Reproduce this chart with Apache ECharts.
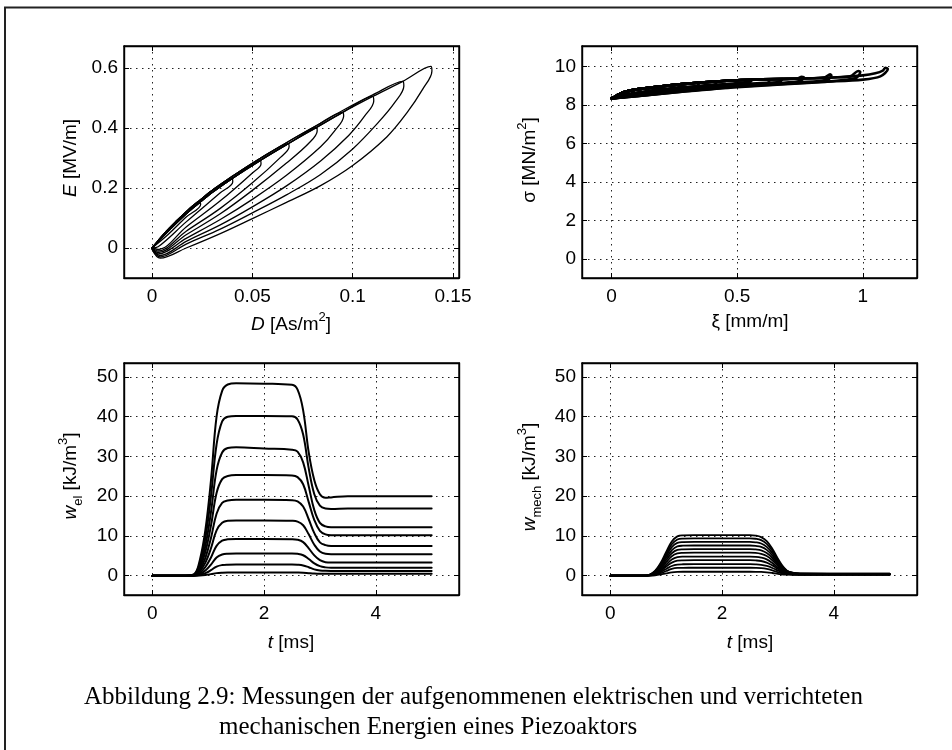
<!DOCTYPE html>
<html><head><meta charset="utf-8">
<script src="https://cdn.jsdelivr.net/npm/echarts@6/dist/echarts.min.js"></script>
<style>html,body{margin:0;padding:0;background:#fff}#c{width:952px;height:750px}</style>
</head><body><div id="c"></div>
<script>
// ---------- axis ranges and tick labels ----------
const rangeD = [-0.014, 0.153];   const ticksD = [0, 0.05, 0.1, 0.15];
const rangeE = [-0.1, 0.673];     const ticksE = [0, 0.2, 0.4, 0.6];
const rangeXi = [-0.118, 1.216];  const ticksXi = [0, 0.5, 1];
const rangeSigma = [-1.0, 11.08]; const ticksSigma = [0, 2, 4, 6, 8, 10];
const rangeT = [-0.507, 5.49];    const ticksT = [0, 2, 4];
const rangeW = [-4.85, 53.5];     const ticksW = [0, 10, 20, 30, 40, 50];

// ---------- E-D hysteresis (upper branch strands + lower branch of each loop, tip first) ----------
const elEnvelope  = [[0,0],[0.006,0.042],[0.012,0.082],[0.018,0.12],[0.024,0.153],[0.031,0.19],[0.04,0.232],[0.054,0.292],[0.068,0.348],[0.082,0.402],[0.095,0.452],[0.11,0.505],[0.125,0.555],[0.139,0.605]];
const elEnvelope2 = [[0,0],[0.006,0.048],[0.012,0.089],[0.018,0.127],[0.024,0.16],[0.031,0.197],[0.04,0.239],[0.054,0.299],[0.068,0.355],[0.082,0.408],[0.095,0.458],[0.11,0.51],[0.125,0.558],[0.139,0.605]];
const elLoop1 = [[0.139,0.605],[0.1395,0.59],[0.135,0.53],[0.127,0.45],[0.117,0.37],[0.1,0.275],[0.084,0.208],[0.067,0.152],[0.05,0.098],[0.034,0.048],[0.017,0.0],[0.004,-0.034],[0,-0.005]];
const elLoop2 = [[0.125,0.555],[0.1255,0.54],[0.121,0.485],[0.113,0.42],[0.1,0.33],[0.084,0.245],[0.067,0.177],[0.05,0.117],[0.034,0.063],[0.017,0.013],[0.004,-0.03],[0,-0.004]];
const elLoop3 = [[0.110,0.505],[0.1105,0.49],[0.106,0.44],[0.098,0.375],[0.084,0.29],[0.067,0.207],[0.05,0.137],[0.034,0.077],[0.017,0.022],[0.004,-0.025],[0,-0.003]];
const elLoop4 = [[0.095,0.452],[0.0955,0.44],[0.091,0.39],[0.084,0.337],[0.067,0.242],[0.05,0.162],[0.034,0.095],[0.017,0.032],[0.003,-0.02],[0,0]];
const elLoop5 = [[0.082,0.402],[0.0823,0.39],[0.078,0.348],[0.067,0.283],[0.05,0.192],[0.034,0.114],[0.017,0.044],[0.003,-0.015],[0,0]];
const elLoop6 = [[0.068,0.348],[0.0683,0.337],[0.064,0.302],[0.05,0.217],[0.034,0.132],[0.017,0.056],[0.003,-0.01],[0,0]];
const elLoop7 = [[0.054,0.292],[0.0543,0.28],[0.05,0.25],[0.034,0.157],[0.017,0.07],[0.003,-0.005],[0,0]];
const elLoop8 = [[0.040,0.232],[0.0402,0.22],[0.034,0.184],[0.017,0.087],[0.003,0.004],[0,0]];
const elLoop9 = [[0.024,0.153],[0.0242,0.145],[0.017,0.103],[0.008,0.045],[0,0]];

// ---------- sigma-xi loops ----------
const mechEnvelope = [[0,8.35],[0.02,8.5],[0.05,8.68],[0.1,8.82],[0.2,8.98],[0.3,9.12],[0.4,9.22],[0.5,9.3],[0.6,9.34],[0.7,9.37],[0.8,9.4],[0.9,9.45],[1.0,9.55],[1.05,9.66]];
const mechLoop1 = [[0.2,8.98],[0.19,8.86],[0.1,8.6],[0.05,8.47],[0,8.36]];
const mechLoop2 = [[0.28,9.1],[0.27,8.95],[0.15,8.72],[0.05,8.52],[0,8.37]];
const mechLoop3 = [[0.35,9.17],[0.34,9.0],[0.25,8.82],[0.1,8.56],[0.04,8.43],[0,8.35]];
const mechLoop4 = [[0.42,9.23],[0.41,9.08],[0.3,8.92],[0.15,8.7],[0.05,8.5],[0,8.37]];
const mechLoop5 = [[0.5,9.3],[0.49,9.1],[0.4,8.96],[0.25,8.74],[0.1,8.52],[0.03,8.39],[0,8.35]];
const mechLoop6 = [[0.56,9.32],[0.55,9.2],[0.45,9.1],[0.3,8.95],[0.15,8.75],[0.05,8.55],[0,8.38]];
const mechLoop7 = [[0.63,9.35],[0.62,9.13],[0.5,9.0],[0.3,8.79],[0.1,8.5],[0,8.35]];
const mechLoop8 = [[0.68,9.36],[0.67,9.22],[0.55,9.12],[0.35,8.92],[0.15,8.68],[0.05,8.5],[0,8.36]];
const mechLoop9 = [[0.74,9.39],[0.757,9.47],[0.765,9.44],[0.75,9.26],[0.6,9.08],[0.4,8.88],[0.2,8.64],[0.05,8.43],[0,8.35]];
const mechLoop10 = [[0.85,9.45],[0.87,9.6],[0.875,9.55],[0.86,9.32],[0.75,9.19],[0.5,8.98],[0.3,8.76],[0.1,8.48],[0,8.35]];
const mechLoop11 = [[0.95,9.5],[0.983,9.78],[0.99,9.72],[0.97,9.4],[0.85,9.23],[0.5,8.96],[0.3,8.73],[0.1,8.47],[0,8.35]];
const mechLoop12 = [[1.08,9.8],[1.09,9.95],[1.1,9.88],[1.07,9.5],[1.0,9.33],[0.85,9.21],[0.5,8.94],[0.3,8.72],[0.1,8.46],[0,8.35]];

// ---------- w_el(t) ----------
const tEl = [0,0.6,0.75,0.85,0.95,1.05,1.15,1.25,1.35,1.5,2.0,2.5,2.6,2.7,2.8,2.9,3.0,3.1,3.2,3.5,5.0];
const wEl1 = [0,0,0.4,3.9,11.5,24,40,46.5,48.1,48.4,48.3,48.0,46.8,41.6,31,24,20.5,19.6,19.7,20,20];
const wEl2 = [0,0,0.3,3.2,9.5,20,33,38.8,40,40.2,40.2,40.1,39.3,35.5,27,20.5,17.6,16.9,16.8,16.9,16.9];
const wEl3 = [0,0,0.25,2.6,7.6,16,26.5,31,32.1,32.3,32.0,31.7,31.2,28.5,22.5,16.5,13.3,12.4,12.2,12.2,12.2];
const wEl4 = [0,0,0.2,2.0,6.0,12.6,20.8,24.3,25.1,25.3,25.3,25.2,24.8,23,18.5,14,11.3,10.4,10.2,10.2,10.2];
const wEl5 = [0,0,0.15,1.5,4.5,9.5,15.6,18.3,18.9,19.1,19.1,19.0,18.7,17.4,14.2,10.7,8.4,7.7,7.5,7.5,7.5];
const wEl6 = [0,0,0.1,1.1,3.3,6.9,11.4,13.3,13.8,13.9,13.9,13.8,13.6,12.7,10.4,7.8,6.1,5.5,5.4,5.4,5.4];
const wEl7 = [0,0,0.07,0.7,2.2,4.6,7.5,8.8,9.15,9.25,9.25,9.2,9.05,8.45,6.9,5.1,3.9,3.4,3.3,3.3,3.3];
const wEl8 = [0,0,0.05,0.45,1.3,2.8,4.6,5.35,5.55,5.6,5.6,5.6,5.5,5.15,4.2,3.1,2.4,2.1,2.0,2.0,2.0];
const wEl9 = [0,0,0.03,0.23,0.65,1.4,2.3,2.68,2.78,2.8,2.8,2.8,2.75,2.58,2.12,1.6,1.32,1.22,1.2,1.2,1.2];
const wEl10 = [0,0,0.01,0.07,0.2,0.4,0.65,0.76,0.8,0.8,0.8,0.8,0.79,0.75,0.65,0.56,0.51,0.5,0.5,0.5,0.5];

// ---------- w_mech(t) ----------
const tMech = [0,0.6,0.7,0.8,0.9,1.0,1.1,1.2,1.3,1.5,2.0,2.5,2.6,2.7,2.8,2.9,3.0,3.1,3.2,3.4,5.0];
const wMech1 = [0,0,0.25,1.2,3.2,6.0,8.6,9.9,10.15,10.2,10.2,10.2,10.1,9.7,8.7,6.8,4.3,2.2,1.0,0.6,0.5];
const wMech2 = [0,0,0.23,1.1,2.95,5.5,7.9,9.1,9.35,9.4,9.4,9.4,9.3,8.95,8.0,6.3,4.0,2.0,0.95,0.55,0.5];
const wMech3 = [0,0,0.2,1.0,2.7,5.0,7.2,8.25,8.45,8.5,8.5,8.5,8.4,8.1,7.25,5.7,3.6,1.85,0.9,0.5,0.45];
const wMech4 = [0,0,0.18,0.9,2.4,4.5,6.4,7.4,7.55,7.6,7.6,7.6,7.5,7.25,6.5,5.1,3.2,1.65,0.8,0.45,0.42];
const wMech5 = [0,0,0.16,0.8,2.1,3.95,5.65,6.5,6.65,6.7,6.7,6.7,6.6,6.4,5.7,4.5,2.85,1.5,0.75,0.42,0.4];
const wMech6 = [0,0,0.14,0.7,1.8,3.4,4.9,5.6,5.75,5.8,5.8,5.8,5.75,5.5,4.95,3.9,2.5,1.3,0.65,0.4,0.38];
const wMech7 = [0,0,0.12,0.55,1.5,2.8,4.05,4.65,4.78,4.8,4.8,4.8,4.75,4.55,4.1,3.2,2.05,1.1,0.55,0.36,0.35];
const wMech8 = [0,0,0.1,0.45,1.2,2.3,3.3,3.8,3.88,3.9,3.9,3.9,3.85,3.7,3.3,2.6,1.7,0.9,0.5,0.33,0.32];
const wMech9 = [0,0,0.07,0.35,0.9,1.7,2.45,2.8,2.88,2.9,2.9,2.9,2.87,2.75,2.45,1.95,1.3,0.7,0.4,0.3,0.3];
const wMech10 = [0,0,0.05,0.25,0.62,1.18,1.7,1.95,1.99,2.0,2.0,2.0,1.98,1.9,1.7,1.35,0.9,0.5,0.32,0.27,0.27];
const wMech11 = [0,0,0.03,0.12,0.32,0.6,0.85,0.97,1.0,1.0,1.0,1.0,0.99,0.95,0.85,0.68,0.47,0.3,0.25,0.24,0.24];

// ---------- texts ----------
const captionLine1 = 'Abbildung 2.9: Messungen der aufgenommenen elektrischen und verrichteten';
const captionLine2 = 'mechanischen Energien eines Piezoaktors';

// =====================================================================
const FONT = '"Liberation Sans", Arial, Helvetica, sans-serif';
const SERIF = '"Liberation Serif", "Times New Roman", serif';
const chart = echarts.init(document.getElementById('c'), null, {renderer: 'canvas'});

const grids = [
  {left: 124, top: 46, width: 335, height: 232},
  {left: 582, top: 46, width: 335, height: 232},
  {left: 124, top: 363, width: 335, height: 232},
  {left: 582, top: 363, width: 335, height: 232}
].map(g => Object.assign({show: true, borderColor: '#000', borderWidth: 1.4, backgroundColor: '#fff'}, g));

function fmt(v) { return String(parseFloat(v.toFixed(6))); }
function mkAxis(kind, gi, range, ticks, main) {
  const pos = kind === 'x' ? (main ? 'bottom' : 'top') : (main ? 'left' : 'right');
  return {
    type: 'value', gridIndex: gi, position: pos, min: range[0], max: range[1],
    axisLine: {show: true, onZero: false, lineStyle: {color: '#000', width: 1.4}},
    axisTick: {show: true, inside: true, length: 5, customValues: ticks, lineStyle: {color: '#000', width: 1}},
    axisLabel: {show: main, customValues: ticks, color: '#000', fontSize: 19, fontFamily: FONT,
                margin: kind === 'x' ? 9 : 6, formatter: fmt, hideOverlap: false},
    splitLine: {show: main, lineStyle: {color: '#222', width: 1, type: [1.5, 4.5]}}
  };
}
const axisSpec = [[rangeD, ticksD, rangeE, ticksE], [rangeXi, ticksXi, rangeSigma, ticksSigma],
                  [rangeT, ticksT, rangeW, ticksW], [rangeT, ticksT, rangeW, ticksW]];
const xAxis = [], yAxis = [];
axisSpec.forEach((s, gi) => {
  xAxis.push(mkAxis('x', gi, s[0], s[1], true), mkAxis('x', gi, s[0], s[1], false));
  yAxis.push(mkAxis('y', gi, s[2], s[3], true), mkAxis('y', gi, s[2], s[3], false));
});

const series = [];
function addLine(gi, data, width, smooth) {
  series.push({type: 'line', xAxisIndex: gi * 2, yAxisIndex: gi * 2, data: data,
    showSymbol: false, symbol: 'none', smooth: smooth, silent: true, animation: false,
    lineStyle: {color: '#000', width: width, join: 'round', cap: 'round'}});
}
function loop(env, lower) { const tx = lower[0][0]; return env.filter(p => p[0] < tx - 1e-6).concat(lower); }

[elLoop1, elLoop2, elLoop3, elLoop4, elLoop5, elLoop6, elLoop7, elLoop8, elLoop9]
  .forEach((l, k) => addLine(0, loop(k % 2 ? elEnvelope2 : elEnvelope, l), 1.3, 0.35));
[mechLoop1, mechLoop2, mechLoop3, mechLoop4, mechLoop5, mechLoop6, mechLoop7, mechLoop8, mechLoop9, mechLoop10, mechLoop11, mechLoop12]
  .forEach(l => addLine(1, loop(mechEnvelope, l), 2.6, 0.3));
[wEl1, wEl2, wEl3, wEl4, wEl5, wEl6, wEl7, wEl8, wEl9, wEl10]
  .forEach(w => addLine(2, tEl.map((t, i) => [t, w[i]]), 2, 0.4));
[wMech1, wMech2, wMech3, wMech4, wMech5, wMech6, wMech7, wMech8, wMech9, wMech10, wMech11]
  .forEach(w => addLine(3, tMech.map((t, i) => [t, w[i]]), 1.8, 0.4));

const rich = {
  n: {fontSize: 19, fontFamily: FONT, lineHeight: 28, fill: '#000'},
  i: {fontSize: 19, fontFamily: FONT, fontStyle: 'italic', lineHeight: 28, fill: '#000'},
  sup: {fontSize: 13, fontFamily: FONT, lineHeight: 14, verticalAlign: 'top', fill: '#000'},
  sub: {fontSize: 13, fontFamily: FONT, lineHeight: 14, verticalAlign: 'bottom', fill: '#000'}
};
function lbl(x, y, text, rot) {
  return {type: 'text', x: x, y: y, rotation: rot ? Math.PI / 2 : 0, silent: true,
    style: {text: text, rich: rich, align: 'center', verticalAlign: 'middle', fontSize: 19, fontFamily: FONT, fill: '#000'}};
}
const graphic = [
  {type: 'line', shape: {x1: 5, y1: 7.5, x2: 5, y2: 750}, style: {stroke: '#222', lineWidth: 2}, silent: true},
  {type: 'line', shape: {x1: 4, y1: 7.5, x2: 952, y2: 7.5}, style: {stroke: '#222', lineWidth: 2}, silent: true},
  lbl(291, 325, '{i|D}{n| [As/m}{sup|2}{n|]}', false),
  lbl(71, 158, '{i|E}{n| [MV/m]}', true),
  lbl(750, 322, '{n|ξ [mm/m]}', false),
  lbl(530, 160, '{n|σ [MN/m}{sup|2}{n|]}', true),
  lbl(291, 643, '{i|t}{n| [ms]}', false),
  lbl(71, 476, '{i|w}{sub|el}{n| [kJ/m}{sup|3}{n|]}', true),
  lbl(750, 643, '{i|t}{n| [ms]}', false),
  lbl(530, 477, '{i|w}{sub|mech}{n| [kJ/m}{sup|3}{n|]}', true),
  {type: 'text', x: 84, y: 697, silent: true, style: {text: captionLine1, fontSize: 25, fontFamily: SERIF, fill: '#000', align: 'left', verticalAlign: 'middle'}},
  {type: 'text', x: 219, y: 727, silent: true, style: {text: captionLine2, fontSize: 25, fontFamily: SERIF, fill: '#000', align: 'left', verticalAlign: 'middle'}}
];

chart.setOption({animation: false, backgroundColor: '#fff', grid: grids, xAxis: xAxis, yAxis: yAxis, series: series, graphic: graphic});
</script></body></html>
